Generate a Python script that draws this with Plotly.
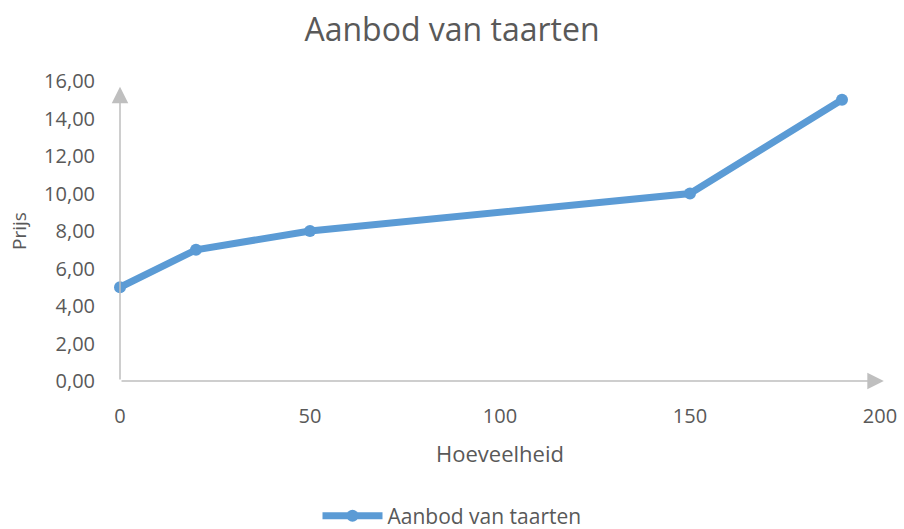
import plotly.graph_objects as go

hoeveelheid = [0, 20, 50, 150, 190]
prijs = [5, 7, 8, 10, 15]
series_name = "Aanbod van taarten"
x_ticks = [0, 50, 100, 150, 200]
y_ticks = [0, 2, 4, 6, 8, 10, 12, 14, 16]

FONT = "Open Sans"
GREY = "#595959"
AXIS = "#BFBFBF"
BLUE = "#5B9BD5"

fig = go.Figure()
fig.add_trace(go.Scatter(
    x=hoeveelheid, y=prijs, mode="lines+markers", name=series_name,
    line=dict(color=BLUE, width=7), marker=dict(color=BLUE, size=12),
    cliponaxis=False,
))

fig.update_layout(
    width=904, height=529,
    margin=dict(l=120, r=24, t=81, b=148, autoexpand=False),
    paper_bgcolor="white", plot_bgcolor="white",
    separators=",.",
    font=dict(family=FONT, color=GREY, size=20),
    title=dict(text="Aanbod van taarten", x=0.5, xref="container", xanchor="center",
               y=1 - 30 / 529, yref="container", yanchor="middle",
               font=dict(size=32, color=GREY, family=FONT)),
    showlegend=True,
    legend=dict(orientation="h", xref="container", yref="container",
                x=0.5, xanchor="center", y=1 - 516 / 529, yanchor="middle",
                font=dict(size=21, color=GREY), itemwidth=60,
                bgcolor="rgba(0,0,0,0)"),
    xaxis=dict(range=[0, 200], tickvals=x_ticks, showgrid=False, zeroline=False,
               showline=False, ticks="outside", ticklen=17, tickcolor="rgba(0,0,0,0)",
               tickfont=dict(size=20, color=GREY), automargin=False,
               title=dict(text="Hoeveelheid", standoff=18, font=dict(size=22, color=GREY))),
    yaxis=dict(range=[0, 16], tickvals=y_ticks, tickformat=".2f", showgrid=False,
               zeroline=False, showline=False, ticks="outside", ticklen=20,
               tickcolor="rgba(0,0,0,0)", tickfont=dict(size=20, color=GREY),
               automargin=False,
               title=dict(text="Prijs", standoff=12, font=dict(size=19, color=GREY))),
)

# axis lines with arrowheads
fig.add_annotation(x=201, y=0, ax=0, ay=0, xref="x", yref="y", axref="x", ayref="y",
                   text="", showarrow=True, arrowhead=2, arrowsize=2.2, arrowwidth=1.5,
                   arrowcolor=AXIS)
fig.add_annotation(x=0, y=15.7, ax=0, ay=0, xref="x", yref="y", axref="x", ayref="y",
                   text="", showarrow=True, arrowhead=2, arrowsize=2.2, arrowwidth=1.5,
                   arrowcolor=AXIS)

fig.write_html("out.html", config={"displayModeBar": False},
               post_script="document.body.style.margin='0';document.body.style.overflow='hidden';")
